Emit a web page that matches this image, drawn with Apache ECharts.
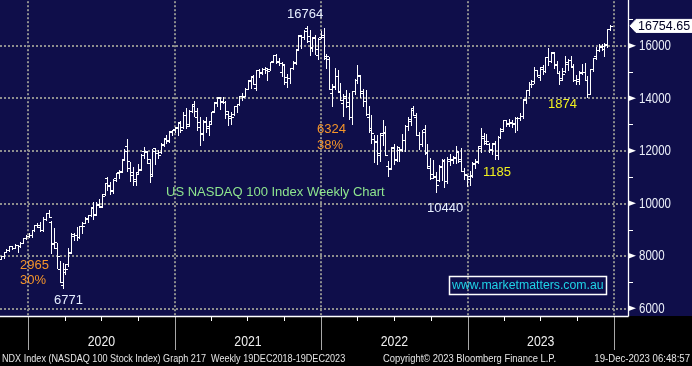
<!DOCTYPE html>
<html><head><meta charset="utf-8">
<script src="https://cdn.jsdelivr.net/npm/echarts@6/dist/echarts.min.js"></script>
<style>
html,body{margin:0;padding:0;background:#000;}
#wrap{position:relative;width:692px;height:366px;background:#000;}
#navy{position:absolute;left:0;top:0;width:692px;height:316px;background:#0f0e4a;}
#c{position:absolute;left:0;top:0;width:692px;height:366px;}
</style>
</head><body><div id="wrap"><div id="navy"></div><div id="c"></div></div>
<script>
// ---------------- DATA ----------------
// weekly bars (Friday dated), first bar:
const firstWeek = '2019-10-25';
// [open, high, low, close]
const w2019 = [
[7890,8010,7860,7990],[7990,8160,7930,8160],[8160,8250,8150,8230],[8230,8360,8190,8360],
[8360,8370,8250,8310],[8310,8430,8300,8400],[8400,8420,8160,8390],[8390,8530,8340,8500],
[8500,8660,8490,8660],[8660,8780,8640,8770]];
const w2020 = [
[8770,8870,8700,8790],[8790,9000,8730,8980],[8980,9180,8960,9170],[9170,9260,9080,9190],
[9100,9300,8940,8990],[8990,9460,8960,9400],[9400,9630,9380,9620],[9620,9740,9470,9480],
[9300,9310,8120,8460],[8470,9070,8300,8530],[8300,8480,7520,7990],[7500,7820,6990,6990],
[6880,7720,6771,7500],[7380,7670,7310,7490],[7690,8280,7610,8150],[8100,8850,8090,8830],
[8750,8860,8600,8780],[8800,9090,8620,8720],[8700,9130,8680,9120],[9150,9280,8850,9150],
[9260,9490,9250,9410],[9450,9560,9300,9550],[9550,9840,9520,9820],[9850,10030,9400,9590],
[9570,10060,9550,9950],[9960,10150,9850,9850],[9900,10340,9850,10280],[10350,10780,10300,10770],
[10950,10990,10500,10660],[10700,10800,10350,10460],[10500,10930,10400,10900],[10950,11170,10850,11140],
[11200,11250,10950,11200],[11220,11700,11200,11650],[11700,12080,11650,12000],[12180,12440,11220,11620],
[11350,11560,10850,11090],[11200,11400,10700,10940],[10850,11150,10680,11100],[11200,11480,11150,11250],
[11300,11860,11250,11850],[12000,12160,11720,11950],[11980,12000,11550,11670],[11550,11700,10820,11050],
[11100,12070,11080,12000],[12100,12100,11500,11900],[11900,12010,11720,11850],[11950,12280,11900,12250],
[12220,12460,12180,12450],[12480,12600,12300,12380],[12400,12760,12350,12750],[12700,12800,12600,12800]];
const w2021 = [
[12840,12900,12720,12890],[12870,13100,12600,13100],[13060,13130,12700,12800],[12900,13460,12850,13370],
[13380,13640,12860,12930],[13020,13540,12950,13530],[13530,13760,13490,13700],[13780,13880,13340,13530],
[13300,13620,12800,12910],[13100,13300,12210,12670],[12650,13160,12400,13100],[13150,13300,12700,12950],
[12850,13150,12610,13030],[13150,13490,13000,13480],[13500,13850,13480,13850],[13800,14060,13690,14040],
[14000,14040,13600,13850],[13900,14060,13800,13860],[13850,13900,13260,13500],[13400,13500,12980,13320],
[13240,13480,13020,13300],[13400,13700,13350,13690],[13700,13780,13490,13770],[13780,14080,13730,14070],
[14100,14200,13950,14030],[14100,14400,14100,14360],[14370,14700,14350,14660],[14700,14820,14400,14810],
[14850,14900,14540,14560],[14400,15080,14300,15060],[15060,15120,14800,14960],[14990,15160,14920,15110],
[15120,15180,14960,15140],[15080,15140,14700,15050],[15100,15380,15060,15370],[15400,15650,15380,15650],
[15660,15700,15350,15380],[15400,15550,15270,15330],[15000,15370,14860,15320],[15250,15300,14560,14790],
[14600,14910,14440,14760],[14780,15150,14590,15140],[15170,15400,15110,15340],[15370,15850,15300,15850],
[15880,16400,15860,16400],[16380,16400,15930,16330],[16350,16600,16260,16570],[16680,16764,16150,16180],
[16370,16600,15650,15950],[15900,16340,15780,16330],[16300,16400,15700,15880],[15660,16290,15500,16260],
[16340,16570,16290,16320]];
const w2022 = [
[16400,16660,15500,15610],[15530,15700,15170,15610],[15500,15560,14340,14350],[14200,14550,13720,14440],
[14480,15150,14350,14850],[14850,15070,14250,14260],[14250,14580,13920,13950],[13800,14170,13320,14090],
[13990,14300,13680,13840],[13710,14190,13210,13300],[13300,14290,13020,14270],[14280,14730,14170,14680],
[14690,15270,14580,14870],[14850,14900,14030,14280],[14190,14370,13700,13880],[13900,14310,13350,13390],
[13270,13710,12710,12850],[12780,13350,12290,12680],[12440,12590,11560,12390],[12330,12610,11480,11840],
[11920,12690,11600,12680],[12600,13190,12230,12670],[12730,12950,11830,11830],[11420,11620,11040,11290],
[11340,12150,11320,12140],[12110,12240,11510,11690],[11660,12170,11600,12130],[12020,12160,11610,12040],
[12080,12620,12000,12400],[12400,12990,11980,12950],[12940,13270,12780,13210],[13150,13640,12990,13630],
[13570,13720,13350,13360],[13280,13430,12600,12610],[12610,12720,12070,12270],[12250,12780,12180,12730],
[12810,12990,11870,11950],[11900,12240,11330,11410],[11360,11720,10930,10970],[11110,11660,10950,11040],
[11010,11190,10440,10690],[10900,11440,10850,11420],[11390,11680,10890,11630],[11610,11680,10630,10830],
[10860,11750,10770,11700],[11620,11880,11450,11680],[11650,11810,11540,11780],[11730,12170,11550,11980],
[11950,11990,11580,11600],[11700,12090,11220,11220],[11230,11330,10920,11130],[11060,11090,10670,10940]];
const w2023 = [
[11020,11210,10700,11040],[11060,11560,11000,11540],[11500,11690,11340,11620],[11560,12170,11540,12170],
[12110,12880,11970,12570],[12490,12690,12270,12300],[12370,12630,12240,12360],[12270,12280,11940,12010],
[12080,12290,11870,12260],[12310,12390,11700,11830],[11840,12570,11700,12520],[12520,12860,12490,12770],
[12830,13190,12740,13180],[13190,13190,12940,13060],[13000,13220,12940,13080],[13050,13160,12900,13000],
[13050,13280,12720,13250],[13230,13290,12800,13240],[13260,13440,13180,13340],[13340,13960,13250,13940],
[13960,14300,13810,14300],[14320,14630,14110,14550],[14560,14690,14420,14550],[14650,15180,14590,15080],
[15060,15090,14850,14890],[14820,15200,14690,15180],[15130,15250,14930,15030],[15050,15570,15010,15560],
[15560,15932,15250,15420],[15430,15760,15370,15760],[15720,15770,15160,15270],[15320,15420,14970,14980],
[14970,15040,14560,14690],[14780,15160,14690,14940],[15040,15620,15000,15310],[15380,15480,15090,15460],
[15450,15610,15200,15200],[15220,15290,14660,14700],[14690,14880,14550,14720],[14670,15050,14530,15010],
[14980,15300,14920,14990],[14990,15340,14690,14700],[14700,14840,14060,14180],[14180,15110,14150,15100],
[15120,15530,15050,15530],[15600,15960,15480,15840],[15830,16050,15790,15980],[15970,16060,15850,15990],
[15880,16090,15620,16080],[16030,16630,15950,16620],[16650,16790,16590,16754.65]];
const lastPrice = 16754.65;
const yearStarts = ['2020-01-01','2021-01-01','2022-01-01','2023-01-01','2024-01-01'];
const yearLabels = ['2020','2021','2022','2023'];
const quarterStarts = ['2020-04-01','2020-07-01','2020-10-01','2021-04-01','2021-07-01','2021-10-01',
  '2022-04-01','2022-07-01','2022-10-01','2023-04-01','2023-07-01','2023-10-01'];
const yMajorTicks = [6000,8000,10000,12000,14000,16000];
const yMinorTicks = [7000,9000,11000,13000,15000,17000];

// ---------------- LAYOUT / STYLE ----------------
const DAY = 86400000;
function utc(s){const p=s.split('-').map(Number);return Date.UTC(p[0],p[1]-1,p[2]);}
const X_MIN = utc('2019-10-23');
const X_MAX = utc('2024-02-05');
const Y_MIN = 6000, Y_MAX = 18000, Y_FLOOR = 5705;
const ARIAL = "'Liberation Sans',Arial,sans-serif";
const NARROW_SCALE = 0.82;
const GRID_COLOR = '#8e8e8e';

const weeks = [].concat(w2019, w2020, w2021, w2022, w2023);
const t0 = utc(firstWeek);
const ohlcData = weeks.map((r, i) => [t0 + i * 7 * DAY, r[0], r[1], r[2], r[3]]);

function renderOHLC(params, api){
  const t = api.value(0);
  const pO = api.coord([t, api.value(1)]);
  const yH = api.coord([t, api.value(2)])[1];
  const yL = api.coord([t, api.value(3)])[1];
  const yC = api.coord([t, api.value(4)])[1];
  const px = Math.round(pO[0]);
  const yo = Math.round(pO[1]) + 0.5, yc = Math.round(yC) + 0.5;
  const st = () => ({stroke:'#ffffff', lineWidth:1});
  return {type:'group', children:[
    {type:'line', shape:{x1:px+0.5, y1:Math.round(yH), x2:px+0.5, y2:Math.round(yL)+1}, style:st()},
    {type:'line', shape:{x1:px-2, y1:yo, x2:px+1, y2:yo}, style:st()},
    {type:'line', shape:{x1:px, y1:yc, x2:px+3, y2:yc}, style:st()}
  ]};
}

function renderYearGrid(params, api){
  const t = api.value(0);
  const top = api.coord([t, Y_MAX]);
  const bot = api.coord([t, Y_FLOOR]);
  const x = Math.round(top[0]);
  const yb = Math.round(bot[1]);
  return {type:'group', children:[
    {type:'line', shape:{x1:x, y1:top[1], x2:x, y2:yb}, style:{stroke:GRID_COLOR, lineWidth:2, lineDash:[2,2]}},
    {type:'line', shape:{x1:x+0.5, y1:yb, x2:x+0.5, y2:yb+34}, style:{stroke:'#a8a8a8', lineWidth:1}}
  ]};
}
function renderQuarter(params, api){
  const p = api.coord([api.value(0), Y_FLOOR]);
  const x = Math.round(p[0]) + 0.5, yb = Math.round(p[1]);
  return {type:'line', shape:{x1:x, y1:yb, x2:x, y2:yb+5}, style:{stroke:'#ffffff', lineWidth:1}};
}
function renderYearLabel(params, api){
  const p = api.coord([api.value(0), Y_FLOOR]);
  return {type:'text', x:p[0], y:p[1]+26, scaleX:NARROW_SCALE,
    style:{text:yearLabels[params.dataIndex], fill:'#eeeeee',
    font:'15px ' + ARIAL, align:'center', verticalAlign:'middle'}};
}
function renderFrame(params, api){
  const bl = api.coord([X_MIN, Y_FLOOR]);
  const br = api.coord([X_MAX, Y_FLOOR]);
  const tr = api.coord([X_MAX, Y_MAX]);
  const yb = Math.round(bl[1]) + 0.5, xr = Math.round(br[0]) + 0.5;
  return {type:'group', children:[
    {type:'line', shape:{x1:bl[0], y1:yb, x2:xr, y2:yb}, style:{stroke:'#ffffff', lineWidth:1.3}},
    {type:'line', shape:{x1:xr, y1:tr[1], x2:xr, y2:yb}, style:{stroke:'#ffffff', lineWidth:1.3}}
  ]};
}
function renderYMajor(params, api){
  const v = api.value(1);
  const p = api.coord([X_MAX, v]);
  const x = Math.round(p[0]), y = p[1];
  return {type:'group', children:[
    {type:'polygon', shape:{points:[[x,y-3],[x,y+3],[x+8,y]]}, style:{fill:'#ffffff'}},
    {type:'text', x:x+11, y:y+0.5, scaleX:NARROW_SCALE,
      style:{text:String(v), fill:'#eaeef8', font:'14px ' + ARIAL, align:'left', verticalAlign:'middle'}}
  ]};
}
function renderYMinor(params, api){
  const p = api.coord([X_MAX, api.value(1)]);
  const x = Math.round(p[0]), y = Math.round(p[1]) + 0.5;
  return {type:'line', shape:{x1:x, y1:y, x2:x+5, y2:y}, style:{stroke:'#ffffff', lineWidth:1}};
}
function renderTag(params, api){
  const p = api.coord([X_MAX, api.value(1)]);
  const x = Math.round(p[0]) + 2, y = p[1];
  return {type:'group', children:[
    {type:'polygon', shape:{points:[[x,y],[x+6,y-6.5],[x+70,y-6.5],[x+70,y+6.5],[x+6,y+6.5]]},
      style:{fill:'#ffffff', stroke:'#ffffff', lineWidth:1}},
    {type:'text', x:x+8, y:y+0.5, style:{text:String(api.value(1)), fill:'#000022',
      font:'12.5px ' + ARIAL, verticalAlign:'middle', align:'left'}}
  ]};
}

function txt(text, x, y, color, font, align, sx){
  return {type:'text', x:x, y:y, silent:true, z:20, scaleX:sx||1,
    style:{text:text, fill:color, font:font, verticalAlign:'middle', align:align||'left'}};
}
const WHITE_T = '#e6eeff', ORANGE = '#f5952a', YELLOW = '#f0f01e', GREEN = '#8ee58e', CYAN = '#1fd3e6', FOOT = '#e4e4e4';
const graphics = [
  txt('16764', 287, 14, WHITE_T, '13px ' + ARIAL),
  txt('6324', 317, 129.5, ORANGE, '13px ' + ARIAL),
  txt('38%', 317, 145.5, ORANGE, '13px ' + ARIAL),
  txt('2965', 20, 265, ORANGE, '13px ' + ARIAL),
  txt('30%', 20, 280.5, ORANGE, '13px ' + ARIAL),
  txt('6771', 54, 300.5, WHITE_T, '13px ' + ARIAL),
  txt('US NASDAQ 100 Index Weekly Chart', 166, 192, GREEN, '13px ' + ARIAL),
  txt('10440', 427, 208.5, WHITE_T, '13px ' + ARIAL),
  txt('1185', 483, 172, YELLOW, '13px ' + ARIAL),
  txt('1874', 548, 104, YELLOW, '13px ' + ARIAL),
  {type:'rect', z:20, silent:true, shape:{x:449.5, y:276.5, width:157, height:18},
    style:{fill:'none', stroke:'#ffffff', lineWidth:1.5}},
  txt('www.marketmatters.com.au', 452, 286, CYAN, '12.3px ' + ARIAL),
  txt('NDX Index (NASDAQ 100 Stock Index) Graph 217  Weekly 19DEC2018-19DEC2023', 2, 359, FOOT, '10.7px ' + ARIAL, 'left', 0.85),
  txt('Copyright\u00a9 2023 Bloomberg Finance L.P.', 383, 359, FOOT, '10.7px ' + ARIAL, 'left', 0.88),
  txt('19-Dec-2023 06:48:57', 690, 359, FOOT, '10.7px ' + ARIAL, 'right', 0.9)
];

const chart = echarts.init(document.getElementById('c'), null, {renderer:'canvas'});
chart.setOption({
  animation:false,
  backgroundColor:'transparent',
  grid:{left:0, right:64, top:-6.8, bottom:57.7, containLabel:false, outerBoundsMode:'none'},
  xAxis:{type:'value', min:X_MIN, max:X_MAX, show:false},
  yAxis:{type:'value', position:'right', min:Y_MIN, max:Y_MAX, interval:2000,
    axisLine:{show:false}, axisTick:{show:false}, axisLabel:{show:false},
    splitLine:{show:true, lineStyle:{color:GRID_COLOR, width:2, type:[2,2]}}},
  graphic:graphics,
  series:[
    {type:'custom', name:'yearGrid', silent:true, z:1, clip:false, data:yearStarts.map(s=>[utc(s), Y_MIN]), renderItem:renderYearGrid},
    {type:'custom', name:'quarters', silent:true, z:3, clip:false, data:quarterStarts.map(s=>[utc(s), Y_MIN]), renderItem:renderQuarter},
    {type:'custom', name:'years', silent:true, z:3, clip:false,
      data:yearLabels.map((y,i)=>[(utc(yearStarts[i])+utc(yearStarts[i+1]))/2, Y_MIN]), renderItem:renderYearLabel},
    {type:'custom', name:'frame', silent:true, z:4, clip:false, data:[[X_MIN, Y_MIN]], renderItem:renderFrame},
    {type:'custom', name:'yMajor', silent:true, z:4, clip:false, data:yMajorTicks.map(v=>[X_MAX, v]), renderItem:renderYMajor},
    {type:'custom', name:'yMinor', silent:true, z:4, clip:false, data:yMinorTicks.map(v=>[X_MAX, v]), renderItem:renderYMinor},
    {type:'custom', name:'NDX', silent:true, z:5, clip:false, data:ohlcData, encode:{x:0, y:[1,2,3,4]}, renderItem:renderOHLC},
    {type:'custom', name:'lastTag', silent:true, z:6, clip:false, data:[[X_MAX, lastPrice]], renderItem:renderTag}
  ]
});
</script>
</body></html>
